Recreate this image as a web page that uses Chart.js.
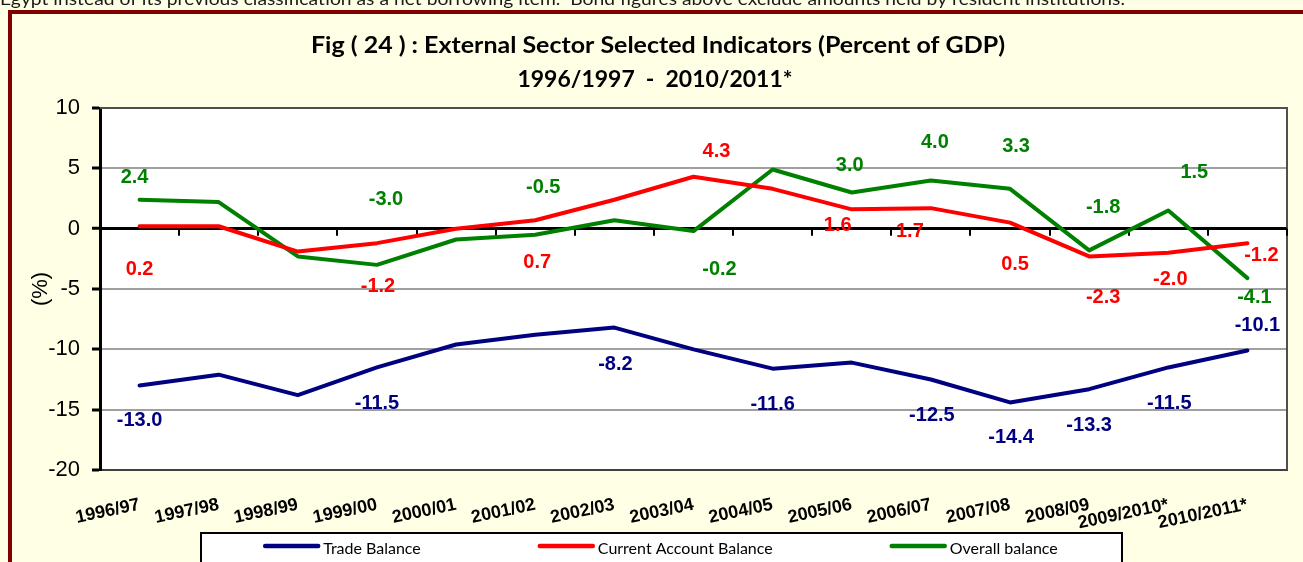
<!DOCTYPE html>
<html>
<head>
<meta charset="utf-8">
<title>External Sector Selected Indicators</title>
<script src="https://cdn.jsdelivr.net/npm/chart.js@4.4.0/dist/chart.umd.min.js"></script>
<style>
  html, body { margin: 0; padding: 0; background: #ffffe6; overflow: hidden; }
  canvas { display: block; }
</style>
</head>
<body>
<canvas id="chart" width="1303" height="562"></canvas>
<script>
const years = ["1996/97", "1997/98", "1998/99", "1999/00", "2000/01", "2001/02", "2002/03", "2003/04",
  "2004/05", "2005/06", "2006/07", "2007/08", "2008/09", "2009/2010*", "2010/2011*"];
const tradeBalance = [-13.0, -12.1, -13.8, -11.5, -9.6, -8.8, -8.2, -10.0, -11.6, -11.1, -12.5, -14.4, -13.3, -11.5, -10.1];
const currentAccount = [0.2, 0.2, -1.9, -1.2, 0.0, 0.7, 2.4, 4.3, 3.3, 1.6, 1.7, 0.5, -2.3, -2.0, -1.2];
const overallBalance = [2.4, 2.2, -2.3, -3.0, -0.9, -0.5, 0.7, -0.2, 4.9, 3.0, 4.0, 3.3, -1.8, 1.5, -4.1];
const yTicks = [10, 5, 0, -5, -10, -15, -20];

// where each value label sits relative to its point, [dx, dy] in px (null = no label)
const tradeLabelShift = [[0, 35], null, null, [0, 36], null, null, [1, 37], null,
  [0, 36], null, [1, 36], [1, 35], [0, 36], [1, 36], [10, -25]];
const currentLabelShift = [[0, 43], null, null, [1, 43], null, [2, 42], null, [23, -25],
  null, [-14, 16], [-21, 23], [5, 42], [14, 41], [2, 27], [14, 12]];
const overallLabelShift = [[-5, -22], null, null, [9, -65], null, [8, -47], null, [26, 38],
  null, [-2, -27], [4, -38], [6, -42], [14, -43], [26, -38], [7, 19]];

const topNote = "Egypt instead of its previous classification as a net borrowing item.  Bond figures above exclude amounts held by resident institutions.";
const titleLines = ["Fig ( 24 ) : External Sector Selected Indicators (Percent of GDP)", "1996/1997  -  2010/2011*"];

Chart.defaults.font.family = "'Liberation Sans', Arial, sans-serif";
Chart.defaults.color = "#000";

// draw text stretched sideways to a given width (the original uses a wider face)
function fitText(ctx, text, x, y, w) {
  const m = ctx.measureText(text).width;
  ctx.save();
  ctx.translate(x, y);
  ctx.scale(w / m, 1);
  ctx.fillText(text, 0, 0);
  ctx.restore();
}

// Backgrounds, plot frame and the category axis on the zero line
const framePlugin = {
  id: "framePlugin",
  beforeDraw(chart) {
    const { ctx, chartArea: a, width, height } = chart;
    ctx.save();
    ctx.fillStyle = "#ffffe6";
    ctx.fillRect(0, 0, width, height);
    ctx.fillStyle = "#ffffff";
    ctx.fillRect(a.left, a.top, a.right - a.left, a.bottom - a.top);
    ctx.restore();
  },
  beforeDatasetsDraw(chart) {
    const { ctx, chartArea: a, scales } = chart;
    ctx.save();
    ctx.strokeStyle = "#505050";
    ctx.lineWidth = 2;
    ctx.beginPath();
    ctx.moveTo(a.left, a.top);
    ctx.lineTo(a.right, a.top);
    ctx.lineTo(a.right, a.bottom);
    ctx.stroke();

    const y0 = scales.y.getPixelForValue(0);
    ctx.strokeStyle = "#000";
    ctx.lineWidth = 2.5;
    ctx.beginPath();
    ctx.moveTo(a.left, y0);
    ctx.lineTo(a.right, y0);
    ctx.stroke();
    ctx.lineWidth = 2;
    for (let i = 1; i <= years.length; i++) {
      const px = Math.round(scales.x.getPixelForValue(i - 0.5));
      ctx.beginPath();
      ctx.moveTo(px, y0);
      ctx.lineTo(px, y0 + 7);
      ctx.stroke();
    }
    ctx.restore();
  }
};

// Value labels next to the points
const valueLabels = {
  id: "valueLabels",
  afterDatasetsDraw(chart) {
    const { ctx } = chart;
    ctx.save();
    ctx.font = "bold 20px 'Liberation Sans', Arial, sans-serif";
    ctx.textAlign = "center";
    ctx.textBaseline = "middle";
    chart.data.datasets.forEach((ds, di) => {
      const meta = chart.getDatasetMeta(di);
      ds.labelShift.forEach((s, i) => {
        if (!s) return;
        const pt = meta.data[i];
        ctx.fillStyle = ds.borderColor;
        ctx.fillText(ds.data[i].toFixed(1), pt.x + s[0], pt.y + s[1]);
      });
    });
    ctx.restore();
  }
};

// Page note, title, outer border and the boxed legend
const pageText = {
  id: "pageText",
  afterDraw(chart) {
    const { ctx, width, height } = chart;
    ctx.save();

    ctx.fillStyle = "#1a1a1a";
    ctx.font = "18px Lato, 'Open Sans', sans-serif";
    ctx.textAlign = "left";
    ctx.textBaseline = "alphabetic";
    fitText(ctx, topNote, 0, 5, 1125);

    ctx.fillStyle = "#800000";
    ctx.fillRect(8, 10, width - 8, 4);
    ctx.fillRect(8, 10, 4, height - 10);

    ctx.fillStyle = "#000";
    ctx.font = "bold 23px Lato, 'Open Sans', sans-serif";
    ctx.textAlign = "center";
    ctx.textBaseline = "middle";
    fitText(ctx, titleLines[0], 658, 46, 694);
    fitText(ctx, titleLines[1], 655, 80, 275);

    const box = { left: 201, right: 1122, top: 533 };
    ctx.fillStyle = "#fff";
    ctx.fillRect(box.left, box.top, box.right - box.left, 40);
    ctx.strokeStyle = "#000";
    ctx.lineWidth = 2;
    ctx.strokeRect(box.left, box.top, box.right - box.left, 40);

    ctx.font = "16px Lato, 'Open Sans', sans-serif";
    ctx.textAlign = "left";
    const sample = 53, gap = 5, between = 119;
    const sets = chart.data.datasets;
    const widths = sets.map(d => ctx.measureText(d.label).width);
    const total = widths.reduce((s, w) => s + w + sample + gap, 0) + between * (sets.length - 1);
    let cx = (box.left + box.right) / 2 - total / 2;
    sets.forEach((d, i) => {
      ctx.strokeStyle = d.borderColor;
      ctx.lineWidth = 4.5;
      ctx.lineCap = "round";
      ctx.beginPath();
      ctx.moveTo(cx, 546);
      ctx.lineTo(cx + sample, 546);
      ctx.stroke();
      ctx.fillStyle = "#000";
      ctx.fillText(d.label, cx + sample + gap, 549);
      cx += sample + gap + widths[i] + between;
    });
    ctx.restore();
  }
};

function gridColor(c) {
  const v = c.tick.value;
  if (v === 0) return "#000";
  if (v === yTicks[0] || v === yTicks[yTicks.length - 1]) return "#505050";
  return "#a0a0a0";
}

new Chart(document.getElementById("chart"), {
  type: "line",
  data: {
    labels: years,
    datasets: [
      { label: "Trade Balance", data: tradeBalance, borderColor: "#000080", labelShift: tradeLabelShift },
      { label: "Current Account Balance", data: currentAccount, borderColor: "#ff0000", labelShift: currentLabelShift },
      { label: "Overall balance", data: overallBalance, borderColor: "#008000", labelShift: overallLabelShift }
    ]
  },
  options: {
    responsive: false,
    animation: false,
    layout: { padding: { left: 0, top: 108, right: 16, bottom: 32 } },
    elements: {
      line: { borderWidth: 4, tension: 0, fill: false, borderJoinStyle: "round", borderCapStyle: "round" },
      point: { radius: 0, hoverRadius: 0 }
    },
    plugins: {
      legend: { display: false },
      title: { display: false },
      tooltip: { enabled: false }
    },
    scales: {
      x: {
        offset: true,
        grid: { display: false },
        border: { display: true, color: "#404040", width: 2 },
        ticks: {
          autoSkip: false,
          minRotation: 12,
          maxRotation: 12,
          padding: 16,
          font: { size: 18, weight: "bold" },
          color: "#000"
        },
        afterFit(scale) { scale.height = 60; }
      },
      y: {
        min: Math.min(...yTicks),
        max: Math.max(...yTicks),
        ticks: { stepSize: yTicks[0] - yTicks[1], padding: 12, font: { size: 22 }, color: "#000" },
        grid: {
          color: gridColor,
          lineWidth: c => (c.tick.value === 0 ? 2.5 : 2),
          tickColor: "#000",
          tickLength: 8,
          tickWidth: 3
        },
        border: { display: true, color: "#000", width: 3 },
        title: { display: true, text: "(%)", font: { size: 22 }, color: "#000", padding: { top: 28, bottom: 0 } },
        afterFit(scale) { scale.width = 100; }
      }
    }
  },
  plugins: [framePlugin, valueLabels, pageText]
});
</script>
</body>
</html>
